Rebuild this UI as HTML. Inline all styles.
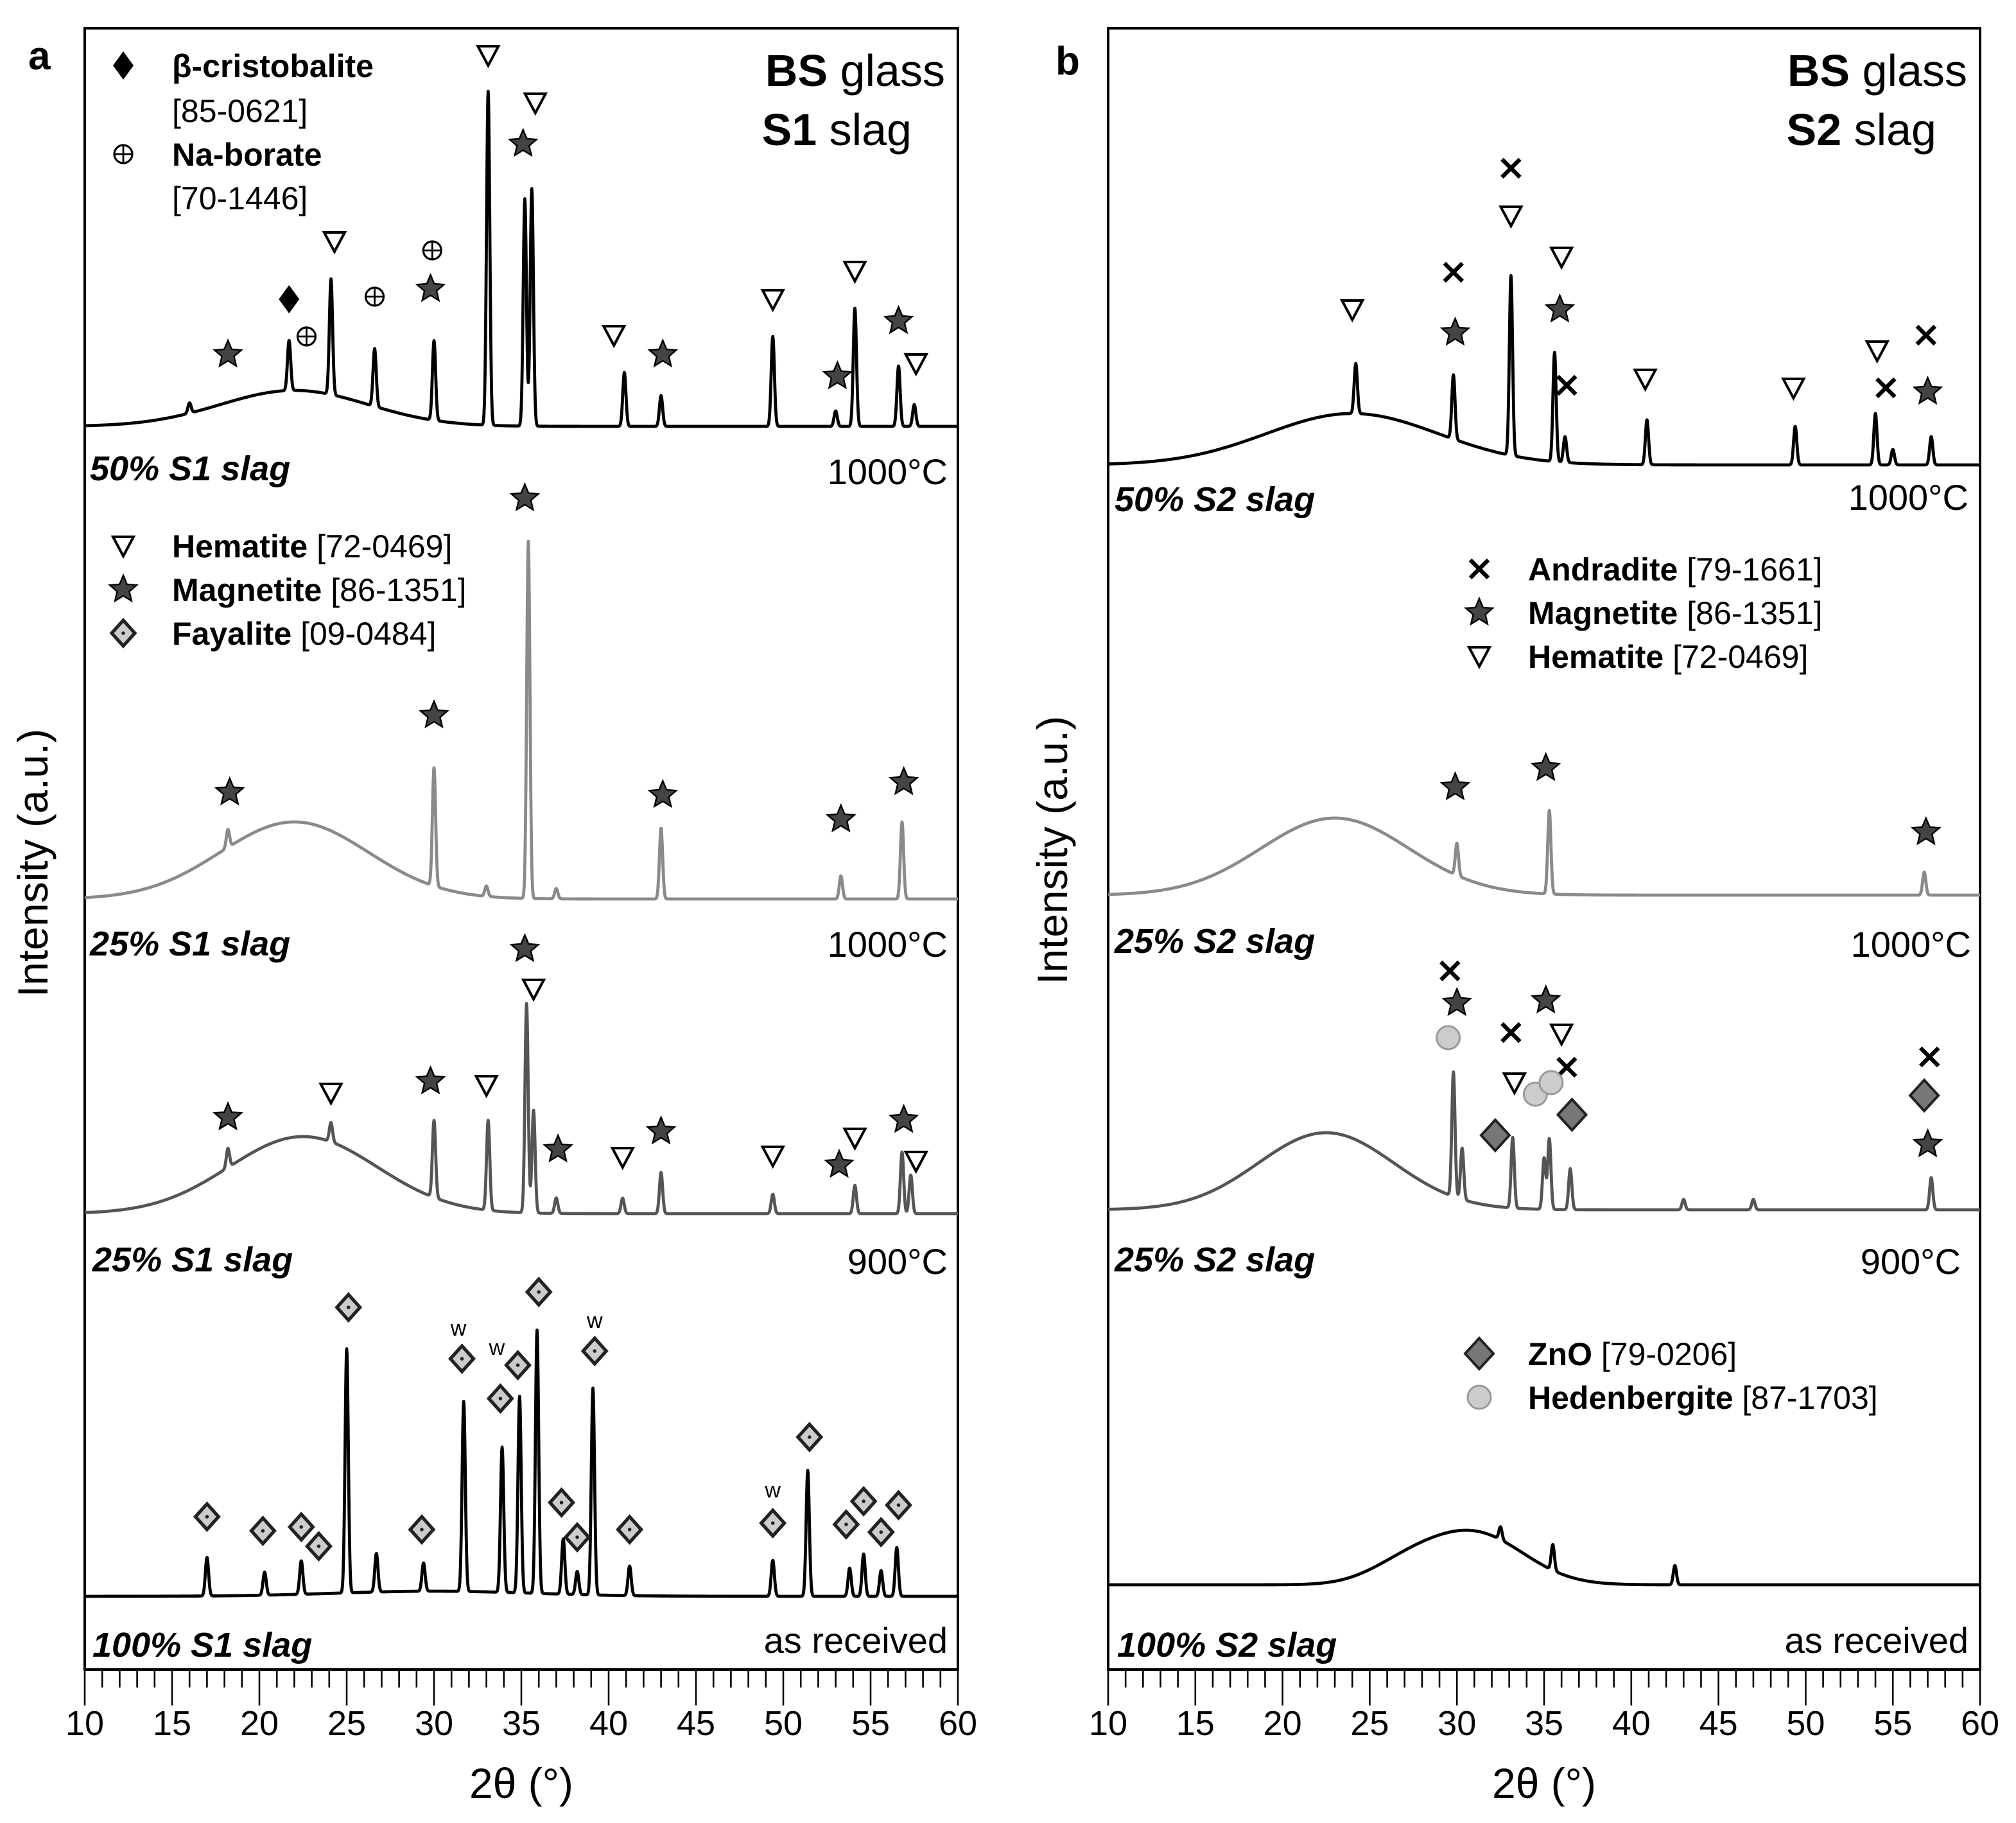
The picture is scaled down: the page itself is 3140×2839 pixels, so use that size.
<!DOCTYPE html>
<html><head><meta charset="utf-8"><style>
html,body{margin:0;padding:0;background:#fff}
svg{display:block}
text{font-family:"Liberation Sans",sans-serif}
</style></head><body>
<svg id="fig" xmlns="http://www.w3.org/2000/svg" width="3140" height="2839" viewBox="0 0 1570 1419.5">
<g id="root"></g>
</svg>
<script>
// ---- data ----
const xTicks = [10,15,20,25,30,35,40,45,50,55,60];
// traces: baseline, humps [center, width, amp], peaks [2theta, intensity]
const a1Base = 332, a1Humps = [[22,6,28]];
const a1Peaks = [[21.7,39],[24.1,90],[26.6,45],[30,62],[33.1,260],[35.2,177],[35.6,185],[40.9,42],[43,24],[49.4,70],[53,12],[54.1,92],[56.6,47],[57.5,17],[16,8]];
const a2Base = 700, a2Humps = [[22,6,60]];
const a2Peaks = [[18.2,14],[30,92],[33,8],[35.4,278],[37,8],[43,55],[53.3,18],[56.8,60]];
const a3Base = 945, a3Humps = [[22.5,6,60]];
const a3Peaks = [[18.2,15],[24.1,15],[30,60],[33.1,70],[35.3,163],[35.7,80],[37,12],[40.8,12],[43,32],[49.4,15],[54.1,22],[56.8,48],[57.3,30]];
const a4Base = 1243, a4Humps = [[30,8,4]];
const a4Peaks = [[17,30],[20.3,18],[22.4,26],[25,190],[26.7,30],[29.4,22],[31.7,148],[33.9,113],[34.9,153],[35.9,205],[37.4,43],[38.2,18],[39.1,161],[41.2,23],[49.4,28],[51.4,98],[53.8,22],[54.6,33],[55.6,20],[56.5,38]];
const b1Base = 362, b1Humps = [[24,7,40]];
const b1Peaks = [[24.2,39],[29.8,50],[33.1,140],[35.6,85],[36.2,20],[40.9,35],[49.4,30],[54,40],[55,12],[57.2,22]];
const b2Base = 697, b2Humps = [[23,6,60]];
const b2Peaks = [[30,25],[35.3,65],[56.8,18]];
const b3Base = 942, b3Humps = [[22.5,5.5,60]];
const b3Peaks = [[29.8,97],[30.3,40],[33.2,55],[35,40],[35.3,55],[36.5,32],[57.2,25],[43,8],[47,8]];
const b4Base = 1234, b4Humps = [[31,4,40],[27,3,12]];
const b4Peaks = [[35.5,20],[42.5,15],[32.5,10]];
// markers [2theta, y, type]
const aMarks = [[21.7,233,'dia'],[22.7,262,'plus'],[26.6,231,'plus'],[29.9,195,'plus'],
[33.1,43,'tri'],[35.8,80,'tri'],[24.3,188,'tri'],[40.3,261,'tri'],[49.4,233,'tri'],[54.1,211,'tri'],[57.6,283,'tri'],
[35.1,112,'star'],[29.8,225,'star'],[18.2,276,'star'],[43.1,276,'star'],[53.1,293,'star'],[56.6,250,'star'],
[35.2,388,'star'],[30,557,'star'],[18.3,617,'star'],[43.1,619,'star'],[53.3,638,'star'],[56.9,609,'star'],
[35.2,739,'star'],[18.2,870,'star'],[29.8,842,'star'],[37.1,895,'star'],[43,881,'star'],[53.2,907,'star'],[56.9,872,'star'],
[35.7,770,'tri'],[24.1,851,'tri'],[33,845,'tri'],[40.8,901,'tri'],[49.4,900,'tri'],[54.1,886,'tri'],[57.6,904,'tri'],
[25.1,1018,'fay'],[36,1006,'fay'],[31.6,1058,'fay'],[34.8,1063,'fay'],[39.2,1052,'fay'],[33.8,1089,'fay'],[17,1181,'fay'],[20.2,1192,'fay'],[22.4,1189,'fay'],[23.4,1204,'fay'],[29.3,1191,'fay'],[37.3,1170,'fay'],[38.2,1197,'fay'],[41.2,1191,'fay'],[49.4,1186,'fay'],[51.5,1119,'fay'],[53.6,1187,'fay'],[54.6,1169,'fay'],[55.6,1193,'fay'],[56.6,1172,'fay']];
const aW = [[31.4,1040],[33.6,1055],[39.2,1034],[49.4,1166]];
const bMarks = [[33.1,131,'x'],[29.8,212,'x'],[36.3,300,'x'],[56.9,261,'x'],[54.6,302,'x'],
[33.1,168,'tri'],[36,200,'tri'],[24,241,'tri'],[40.8,295,'tri'],[49.3,302,'tri'],[54.1,273,'tri'],
[29.9,259,'star'],[35.9,241,'star'],[57,305,'star'],
[29.9,613,'star'],[35.1,598,'star'],[56.9,648,'star'],
[29.6,756,'x'],[33.1,804,'x'],[36.3,831,'x'],[57.1,823,'x'],[30,781,'star'],[35.1,779,'star'],[57,891,'star'],
[36,805,'tri'],[33.3,843,'tri'],[29.5,808,'hed'],[34.5,852,'hed'],[35.4,843,'hed'],[32.2,884,'zno'],[36.6,868,'zno'],[56.8,853,'zno']];

// ---- drawing ----
const NS='http://www.w3.org/2000/svg';
const root=document.getElementById('root');
function el(tag,attrs,parent){const e=document.createElementNS(NS,tag);for(const k in attrs)e.setAttribute(k,attrs[k]);(parent||root).appendChild(e);return e;}
function txt(x,y,s,size,opts,parent){const t=el('text',Object.assign({x:x,y:y,'font-size':size},opts||{}),parent);t.innerHTML=s;return t;}
const panels={a:{x0:66,x1:746},b:{x0:863,x1:1542}};
const yTop=22,yBot=1300;
function xs(p,d){return p.x0+(d-10)*(p.x1-p.x0)/50;}

function drawTrace(p,base,humps,peaks,color,name){
  let pts=[];
  for(let d=10;d<=60.0001;d+=0.02){
    let y=base;
    for(const h of humps)y-=h[2]*Math.exp(-Math.pow((d-h[0])/h[1],2));
    for(const k of peaks)y-=k[1]*Math.exp(-Math.pow((d-k[0])/0.13,2));
    pts.push(xs(p,d).toFixed(2)+','+y.toFixed(2));
  }
  const e=el('polyline',{points:pts.join(' '),fill:'none',stroke:color,'stroke-width':2.4,'stroke-linejoin':'round'});
  
  
}
function star(cx,cy,r){let s=[];for(let i=0;i<10;i++){const a=-Math.PI/2+i*Math.PI/5;const rr=i%2?r*0.45:r;s.push((cx+rr*Math.cos(a)).toFixed(2)+','+(cy+rr*Math.sin(a)).toFixed(2));}return s.join(' ');}
function marker(g,x,y,t){
  if(t==='tri')el('polygon',{points:`${x-8},${y-7} ${x+8},${y-7} ${x},${y+8}`,fill:'#fff',stroke:'#000','stroke-width':2},g);
  else if(t==='star')el('polygon',{points:star(x,y,11),fill:'#444',stroke:'#000','stroke-width':1.2},g);
  else if(t==='dia')el('polygon',{points:`${x},${y-11} ${x+8},${y} ${x},${y+11} ${x-8},${y}`,fill:'#000'},g);
  else if(t==='plus'){el('circle',{cx:x,cy:y,r:7,fill:'#fff',stroke:'#000','stroke-width':1.6},g);el('path',{d:`M${x-7},${y}H${x+7}M${x},${y-7}V${y+7}`,stroke:'#000','stroke-width':1.4},g);}
  else if(t==='fay'){el('polygon',{points:`${x},${y-10} ${x+9},${y} ${x},${y+10} ${x-9},${y}`,fill:'#ccc',stroke:'#222','stroke-width':2.6},g);el('circle',{cx:x,cy:y,r:1.4,fill:'#222'},g);}
  else if(t==='x')el('path',{d:`M${x-7},${y-7}L${x+7},${y+7}M${x+7},${y-7}L${x-7},${y+7}`,stroke:'#000','stroke-width':3.2},g);
  else if(t==='zno')el('polygon',{points:`${x},${y-12} ${x+11},${y} ${x},${y+12} ${x-11},${y}`,fill:'#777',stroke:'#222','stroke-width':2},g);
  else if(t==='hed')el('circle',{cx:x,cy:y,r:9,fill:'#ccc',stroke:'#999','stroke-width':1.5},g);
}
function drawMarks(p,arr,name){
  const g=el('g',{});
  
  
  for(const m of arr)marker(g,xs(p,m[0]),m[1],m[2]);
}
function axes(p,key){
  const g=el('g',{});
  
  
  el('rect',{x:p.x0,y:yTop,width:p.x1-p.x0,height:yBot-yTop,fill:'none',stroke:'#000','stroke-width':2},g);
  for(let d=10;d<=60;d++){const x=xs(p,d);const L=d%5===0?28:14;el('line',{x1:x,x2:x,y1:yBot,y2:yBot+L,stroke:'#000','stroke-width':1.3},g);}
  for(const v of xTicks){const t=txt(xs(p,v),1351,v,27,{'text-anchor':'middle'},g);
    
    }
  const xt=txt((p.x0+p.x1)/2,1400,'2θ (°)',33,{'text-anchor':'middle'},g);
  
  
}
const A=panels.a,B=panels.b;
axes(A,'a');axes(B,'b');
drawTrace(A,a1Base,a1Humps,a1Peaks,'#000','trace-50-s1-1000');
drawTrace(A,a2Base,a2Humps,a2Peaks,'#8a8a8a','trace-25-s1-1000');
drawTrace(A,a3Base,a3Humps,a3Peaks,'#555','trace-25-s1-900');
drawTrace(A,a4Base,a4Humps,a4Peaks,'#000','trace-100-s1');
drawTrace(B,b1Base,b1Humps,b1Peaks,'#000','trace-50-s2-1000');
drawTrace(B,b2Base,b2Humps,b2Peaks,'#8a8a8a','trace-25-s2-1000');
drawTrace(B,b3Base,b3Humps,b3Peaks,'#555','trace-25-s2-900');
drawTrace(B,b4Base,b4Humps,b4Peaks,'#000','trace-100-s2');
drawMarks(A,aMarks,'peak-markers-a');
drawMarks(B,bMarks,'peak-markers-b');
for(const w of aW){const t=txt(xs(A,w[0]),w[1],'w',17,{'text-anchor':'middle'});
  
  }

// labels
function lab(x,y,s,size,opts,name){const t=txt(x,y,s,size,opts);return t;}
lab(22,54,'a',31,{'font-weight':'bold'},'panel-label-a');
lab(822,58,'b',31,{'font-weight':'bold'},'panel-label-b');
lab(0,0,'Intensity (a.u.)',33,{'text-anchor':'middle',transform:'translate(37,672) rotate(-90)'},'y-axis-title-a');
lab(0,0,'Intensity (a.u.)',33,{'text-anchor':'middle',transform:'translate(831,662) rotate(-90)'},'y-axis-title-b');
const BI={'font-weight':'bold','font-style':'italic'};
lab(70,374,'50% S1 slag',27,BI,'label-50-s1');
lab(738,377,'1000°C',28,{'text-anchor':'end'},'temp-50-s1');
lab(70,744,'25% S1 slag',27,BI,'label-25-s1-1000');
lab(738,745,'1000°C',28,{'text-anchor':'end'},'temp-25-s1-1000');
lab(72,990,'25% S1 slag',27,BI,'label-25-s1-900');
lab(738,992,'900°C',28,{'text-anchor':'end'},'temp-25-s1-900');
lab(72,1290,'100% S1 slag',27,BI,'label-100-s1');
lab(738,1287,'as received',28,{'text-anchor':'end'},'temp-100-s1');
lab(868,398,'50% S2 slag',27,BI,'label-50-s2');
lab(1533,397,'1000°C',28,{'text-anchor':'end'},'temp-50-s2');
lab(868,742,'25% S2 slag',27,BI,'label-25-s2-1000');
lab(1535,745,'1000°C',28,{'text-anchor':'end'},'temp-25-s2-1000');
lab(868,990,'25% S2 slag',27,BI,'label-25-s2-900');
lab(1527,992,'900°C',28,{'text-anchor':'end'},'temp-25-s2-900');
lab(870,1290,'100% S2 slag',27,BI,'label-100-s2');
lab(1533,1287,'as received',28,{'text-anchor':'end'},'temp-100-s2');
lab(736,67,'<tspan font-weight="bold">BS</tspan> glass',35,{'text-anchor':'end'},'title-a-line1');
lab(710,113,'<tspan font-weight="bold">S1</tspan> slag',35,{'text-anchor':'end'},'title-a-line2');
lab(1532,67,'<tspan font-weight="bold">BS</tspan> glass',35,{'text-anchor':'end'},'title-b-line1');
lab(1508,113,'<tspan font-weight="bold">S2</tspan> slag',35,{'text-anchor':'end'},'title-b-line2');

// legends
function legend(x,y,type,html,name){
  const g=el('g',{});
  
  
  if(type)marker(g,x,y,type);
  const t=txt(x+38,y+9,html,25,{},g);
}
legend(96,51,'dia','<tspan font-weight="bold">β-cristobalite</tspan>','legend-cristobalite');
legend(96,86,null,'[85-0621]','legend-cristobalite-code');
legend(96,120,'plus','<tspan font-weight="bold">Na-borate</tspan>','legend-naborate');
legend(96,154,null,'[70-1446]','legend-naborate-code');
legend(96,425,'tri','<tspan font-weight="bold">Hematite</tspan> [72-0469]','legend-hematite-a');
legend(96,459,'star','<tspan font-weight="bold">Magnetite</tspan> [86-1351]','legend-magnetite-a');
legend(96,493,'fay','<tspan font-weight="bold">Fayalite</tspan> [09-0484]','legend-fayalite');
legend(1152,443,'x','<tspan font-weight="bold">Andradite</tspan> [79-1661]','legend-andradite');
legend(1152,477,'star','<tspan font-weight="bold">Magnetite</tspan> [86-1351]','legend-magnetite-b');
legend(1152,511,'tri','<tspan font-weight="bold">Hematite</tspan> [72-0469]','legend-hematite-b');
legend(1152,1054,'zno','<tspan font-weight="bold">ZnO</tspan> [79-0206]','legend-zno');
legend(1152,1088,'hed','<tspan font-weight="bold">Hedenbergite</tspan> [87-1703]','legend-hedenbergite');
</script>
</body></html>
